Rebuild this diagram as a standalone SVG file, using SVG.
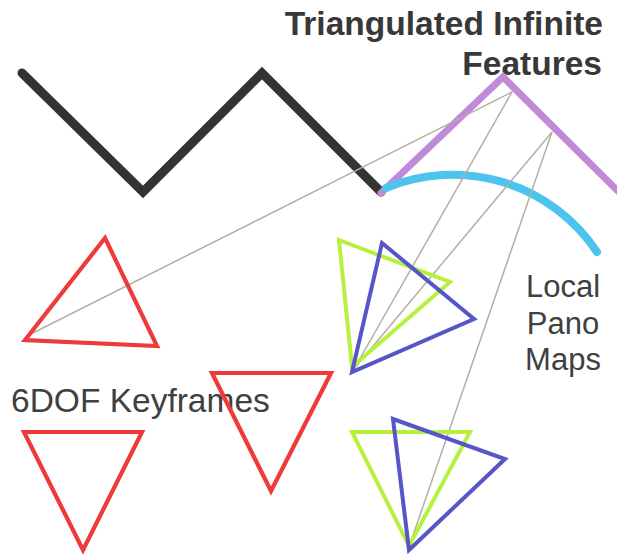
<svg xmlns="http://www.w3.org/2000/svg" width="617" height="556" viewBox="0 0 617 556">
  <style>
    .lbl { font-family: "Liberation Sans", Arial, sans-serif; fill: #404040; }
    .title { font-weight: bold; font-size: 33.5px; fill: #383838; }
    .kf { fill: none; stroke: #ee3a3a; stroke-width: 4.2; stroke-linejoin: miter; }
    .pano-a { fill: none; stroke: #b8f040; stroke-width: 4; }
    .pano-b { fill: none; stroke: #5656c8; stroke-width: 4; }
    .ray { stroke: #b3afa3; stroke-width: 1.5; fill: none; }
  </style>
  <rect width="617" height="556" fill="#ffffff"/>

  <!-- labels -->
  <g id="label-features">
    <text class="lbl title" x="603" y="34.5" text-anchor="end">Triangulated Infinite</text>
    <text class="lbl title" x="602" y="75" text-anchor="end">Features</text>
  </g>
  <g id="label-keyframes">
    <text class="lbl" x="11" y="412" font-size="33.5">6DOF Keyframes</text>
  </g>
  <g id="label-pano">
    <text class="lbl" x="563" y="297" font-size="31" text-anchor="middle">Local</text>
    <text class="lbl" x="563" y="334" font-size="31" text-anchor="middle">Pano</text>
    <text class="lbl" x="563" y="370" font-size="31" text-anchor="middle">Maps</text>
  </g>

  <!-- terrain / structure lines -->
  <g id="scene-line">
    <polyline points="22,73 143,192 262,73 381,192" fill="none" stroke="#333333" stroke-width="9" stroke-linecap="round" stroke-linejoin="miter"/>
  </g>
  <g id="infinite-features">
    <polyline points="381,193 503,77 624,197" fill="none" stroke="#c08ad8" stroke-width="7" stroke-linecap="round" stroke-linejoin="miter"/>
  </g>
  <g id="pano-arc">
    <path d="M386,188 A173.5,173.5 0 0 1 597,252" fill="none" stroke="#4cc4ee" stroke-width="8" stroke-linecap="round"/>
  </g>

  <!-- observation rays -->
  <g id="connectors">
    <line class="ray" x1="512" y1="92" x2="29" y2="335"/>
    <line class="ray" x1="512" y1="92" x2="354" y2="369"/>
    <line class="ray" x1="552" y1="132" x2="354" y2="369"/>
    <line class="ray" x1="552" y1="132" x2="409" y2="547"/>
  </g>

  <!-- keyframes -->
  <g id="keyframe-1">
    <polygon class="kf" points="105,238 25,340 157,346"/>
  </g>
  <g id="keyframe-2">
    <polygon class="kf" points="24,432 142,432 83,550"/>
  </g>
  <g id="keyframe-3">
    <polygon class="kf" points="212,373 331,373 271,491"/>
  </g>

  <!-- pano map frames -->
  <g id="pano-1">
    <polygon class="pano-a" points="339,240 450,282 352,367"/>
    <polygon class="pano-b" points="382,243 474,319 352,372"/>
  </g>
  <g id="pano-2">
    <polygon class="pano-a" points="352,432 470,432 409,546"/>
    <polygon class="pano-b" points="393,419 505,459 409,550"/>
  </g>
</svg>
